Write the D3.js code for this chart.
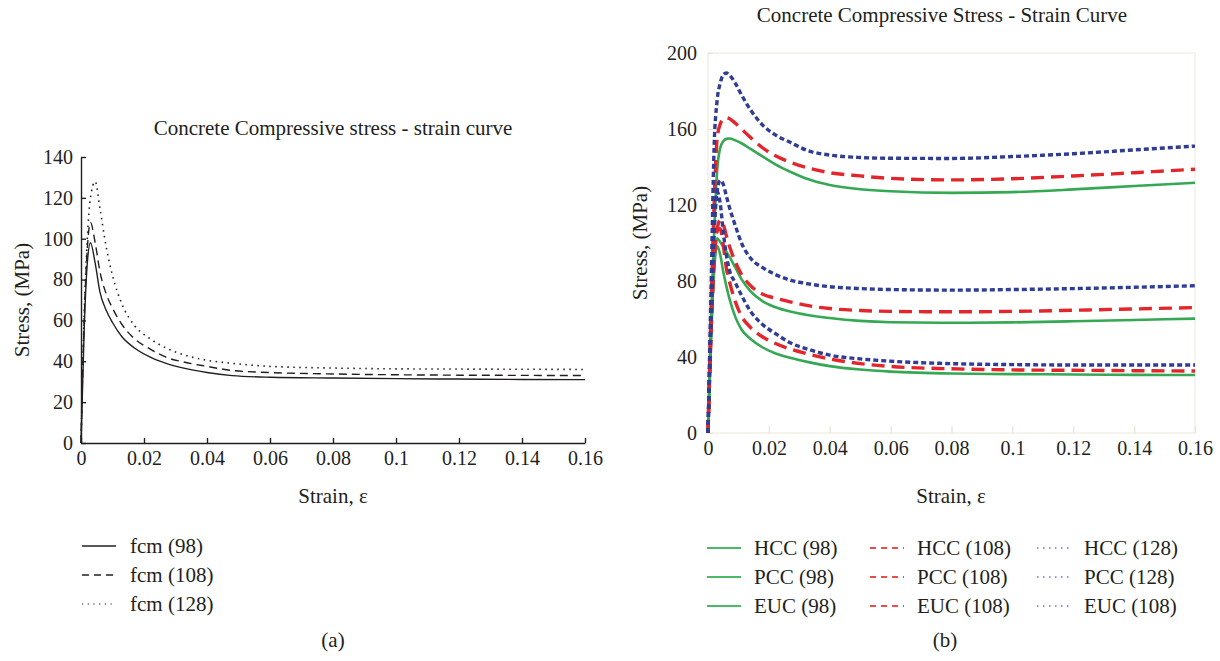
<!DOCTYPE html>
<meta charset="utf-8">
<script src="https://d3js.org/d3.v7.min.js"></script>
<style>
  body { margin: 0; background: #fff; }
  svg text { font-family: "Liberation Serif", "DejaVu Serif", serif; fill: #231f20; }
</style>
<body>
<div id="chart"></div>
<script>

// ---- data, panel (a) ----
var strainA = [0, 0.001, 0.002, 0.003, 0.0045, 0.006, 0.008, 0.01, 0.013, 0.017, 0.022, 0.027, 0.033, 0.04, 0.048, 0.06, 0.08, 0.1, 0.12, 0.14, 0.16];
var fcm98  = [0, 55, 88, 98, 88, 74, 65, 59, 52, 46.5, 42, 39, 36.5, 34.5, 33, 32.2, 31.8, 31.5, 31.3, 31.1, 31];
var fcm108 = [0, 60, 95, 108, 98, 84, 73, 66, 58, 51, 46, 42, 39.5, 37.5, 35.5, 34.5, 33.8, 33.4, 33.2, 33.1, 33];
var fcm128 = [0, 62, 100, 120, 128, 115, 96, 82, 68, 57.5, 51, 46.5, 43, 40.5, 39, 37.5, 36.7, 36.3, 36.2, 36.1, 36];
var namesA = ["fcm (98)", "fcm (108)", "fcm (128)"];
var yTicksA = [0, 20, 40, 60, 80, 100, 120, 140];
var xTicks = [0, 0.02, 0.04, 0.06, 0.08, 0.1, 0.12, 0.14, 0.16];
var xTickLabels = ["0", "0.02", "0.04", "0.06", "0.08", "0.1", "0.12", "0.14", "0.16"];

// ---- data, panel (b) ----
var strainB = [0, 0.001, 0.002, 0.003, 0.004, 0.005, 0.006, 0.007, 0.009, 0.011, 0.014, 0.018, 0.022, 0.027, 0.033, 0.04, 0.05, 0.06, 0.08, 0.1, 0.12, 0.14, 0.16];
var hcc98  = [0, 60, 105, 138, 150, 153.5, 154.8, 155, 154, 152.5, 149.5, 145.5, 141.5, 137.5, 133.5, 130.5, 128.3, 127.2, 126.4, 126.8, 128.2, 130, 131.7];
var hcc108 = [0, 65, 120, 155, 162.5, 165, 166, 165.5, 163, 160, 155.5, 150, 146, 142.5, 139.5, 137, 135.3, 134, 133.2, 133.8, 135.3, 137, 138.8];
var hcc128 = [0, 75, 150, 175, 184, 188.5, 189.5, 188.5, 184, 178, 170, 162, 157, 153, 148.5, 146.3, 145, 144.6, 144.5, 145.5, 147, 149, 151];
var pcc98  = [0, 50, 88, 102.5, 100.5, 98, 95.5, 93, 87, 81, 74.5, 69.3, 66.3, 63.9, 62, 60.5, 59, 58.3, 58, 58.2, 58.8, 59.5, 60.2];
var pcc108 = [0, 55, 92, 107, 112, 110, 104, 98.5, 90, 83.5, 77.5, 73, 71, 69, 67, 65.5, 64.5, 64, 63.8, 64, 64.6, 65.3, 66];
var pcc128 = [0, 60, 105, 127, 133, 131, 125, 119, 109, 100, 92, 87, 83.5, 80.5, 78.5, 77, 76, 75.5, 75.2, 75.5, 76, 76.7, 77.5];
var euc98  = [0, 50, 85, 98.4, 94, 85, 77.5, 71, 61, 54.5, 49.5, 45, 42, 39.6, 37.3, 35.2, 33.4, 32.3, 31.3, 31, 30.8, 30.6, 30.5];
var euc108 = [0, 52, 90, 106.5, 107.5, 99, 87, 80, 69, 61.5, 55.5, 50.5, 47.2, 44.2, 41.5, 39, 36.5, 35, 33.8, 33.2, 33, 32.8, 32.6];
var euc128 = [0, 58, 108, 127, 121, 106, 94, 86, 79, 72.5, 64, 57, 52.5, 47.5, 44, 41, 39, 37.8, 36.5, 36, 35.8, 35.8, 35.8];
var namesB = ["HCC (98)", "PCC (98)", "EUC (98)", "HCC (108)", "PCC (108)", "EUC (108)", "HCC (128)", "PCC (128)", "EUC (108)"];
var yTicksB = [0, 40, 80, 120, 160, 200];

var svg = d3.select("#chart").append("svg")
    .attr("width", 1220)
    .attr("height", 661);

// =================== panel (a) ===================
var xA = d3.scaleLinear().domain([0, 0.16]).range([81, 585]);
var yA = d3.scaleLinear().domain([0, 140]).range([443, 157]);

var gA = svg.append("g");

var axYA = gA.append("g")
    .attr("transform", "translate(81,0)")
    .call(d3.axisLeft(yA).tickValues(yTicksA).tickSizeInner(-5).tickSizeOuter(0).tickPadding(8));
var axXA = gA.append("g")
    .attr("transform", "translate(0,443)")
    .call(d3.axisBottom(xA).tickValues(xTicks).tickFormat(function(d, i) { return xTickLabels[i]; })
      .tickSizeInner(-5).tickSizeOuter(0).tickPadding(8));
[axYA, axXA].forEach(function(a) {
  a.selectAll("text").style("font-size", "20px").style("font-family", null);
  a.selectAll("line, path").attr("stroke", "#231f20").attr("stroke-width", 1.4);
});

var lineA = d3.line()
    .x(function(d) { return xA(d[0]); })
    .y(function(d) { return yA(d[1]); })
    .curve(d3.curveMonotoneX);

var seriesA = [fcm98, fcm108, fcm128];
var dashA = [null, "8,5", "1.5,4.5"];
seriesA.forEach(function(s, i) {
  gA.append("path")
    .datum(strainA.map(function(e, j) { return [e, s[j]]; }))
    .attr("fill", "none")
    .attr("stroke", "#231f20")
    .attr("stroke-width", i == 2 ? 1.6 : 1.4)
    .attr("stroke-dasharray", dashA[i])
    .attr("d", lineA);
});

gA.append("text").attr("x", 333).attr("y", 135).attr("text-anchor", "middle")
  .style("font-size", "21px").text("Concrete Compressive stress - strain curve");
gA.append("text").attr("transform", "translate(29,300) rotate(-90)").attr("text-anchor", "middle")
  .style("font-size", "21px").text("Stress, (MPa)");
gA.append("text").attr("x", 333).attr("y", 503).attr("text-anchor", "middle")
  .style("font-size", "21px").text("Strain, ε");

// legend (a)
namesA.forEach(function(n, i) {
  var yy = 546 + i * 29;
  gA.append("line").attr("x1", 82).attr("x2", 116).attr("y1", yy).attr("y2", yy)
    .attr("stroke", "#231f20").attr("stroke-width", i == 2 ? 1.2 : 1.4)
    .attr("stroke-dasharray", i == 0 ? null : (i == 1 ? "7,5" : "1.2,4.5"));
  gA.append("text").attr("x", 130).attr("y", yy + 7).style("font-size", "21px").text(n);
});
gA.append("text").attr("x", 333).attr("y", 647).attr("text-anchor", "middle")
  .style("font-size", "21px").text("(a)");

// =================== panel (b) ===================
var xB = d3.scaleLinear().domain([0, 0.16]).range([708, 1195]);
var yB = d3.scaleLinear().domain([0, 200]).range([433, 53]);

var gB = svg.append("g");

gB.append("rect")
  .attr("x", xB(0)).attr("y", yB(200))
  .attr("width", xB(0.16) - xB(0)).attr("height", yB(0) - yB(200))
  .attr("fill", "none").attr("stroke", "#eeebe0").attr("stroke-width", 1.2);

var axYB = gB.append("g")
    .attr("transform", "translate(708,0)")
    .call(d3.axisLeft(yB).tickValues(yTicksB).tickSizeInner(-5).tickSizeOuter(0).tickPadding(11));
var axXB = gB.append("g")
    .attr("transform", "translate(0,433)")
    .call(d3.axisBottom(xB).tickValues(xTicks).tickFormat(function(d, i) { return xTickLabels[i]; })
      .tickSizeInner(-7).tickSizeOuter(0).tickPadding(8));
[axYB, axXB].forEach(function(a) {
  a.select(".domain").remove();
  a.selectAll("text").style("font-size", "20px").style("font-family", null);
  a.selectAll("line").attr("stroke", "#e6e3d6").attr("stroke-width", 1.2);
});

var lineB = d3.line()
    .x(function(d) { return xB(d[0]); })
    .y(function(d) { return yB(d[1]); })
    .curve(d3.curveMonotoneX);

var groupsB = [
  { data: [hcc98, pcc98, euc98], color: "#34a853", dash: null, width: 2.6 },
  { data: [hcc108, pcc108, euc108], color: "#e3262b", dash: "13,7", width: 3.4 },
  { data: [hcc128, pcc128, euc128], color: "#2f3d94", dash: "5,3", width: 3.4 }
];
groupsB.forEach(function(g) {
  g.data.forEach(function(s) {
    gB.append("path")
      .datum(strainB.map(function(e, j) { return [e, s[j]]; }))
      .attr("fill", "none")
      .attr("stroke", g.color)
      .attr("stroke-width", g.width)
      .attr("stroke-dasharray", g.dash)
      .attr("d", lineB);
  });
});

gB.append("text").attr("x", 942).attr("y", 22).attr("text-anchor", "middle")
  .style("font-size", "21px").text("Concrete Compressive Stress - Strain Curve");
gB.append("text").attr("transform", "translate(647,243) rotate(-90)").attr("text-anchor", "middle")
  .style("font-size", "21px").text("Stress, (MPa)");
gB.append("text").attr("x", 951).attr("y", 503).attr("text-anchor", "middle")
  .style("font-size", "21px").text("Strain, ε");

// legend (b)
var legCols = [707, 870, 1037];
var legStyle = [
  { color: "#4cb868", dash: null, width: 2 },
  { color: "#ef4a4a", dash: "6,5", width: 2 },
  { color: "#6a7cc6", dash: "1.5,4.5", width: 1.6 }
];
namesB.forEach(function(n, i) {
  var c = Math.floor(i / 3), r = i % 3;
  var yy = 548 + r * 29;
  var st = legStyle[c];
  gB.append("line").attr("x1", legCols[c]).attr("x2", legCols[c] + 34).attr("y1", yy).attr("y2", yy)
    .attr("stroke", st.color).attr("stroke-width", st.width).attr("stroke-dasharray", st.dash);
  gB.append("text").attr("x", legCols[c] + 47).attr("y", yy + 7).style("font-size", "21px").text(n);
});
gB.append("text").attr("x", 945).attr("y", 647).attr("text-anchor", "middle")
  .style("font-size", "21px").text("(b)");

</script>
</body>
